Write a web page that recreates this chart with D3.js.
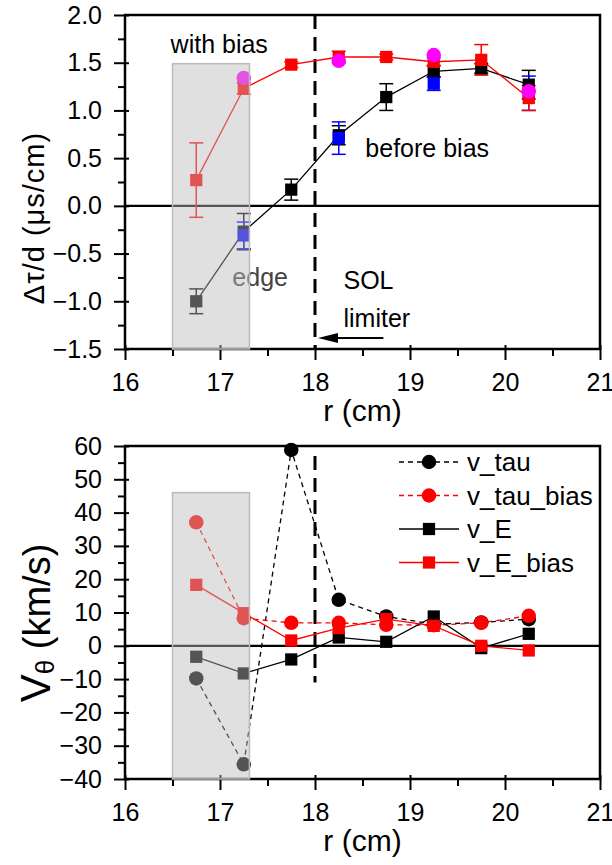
<!DOCTYPE html>
<html><head><meta charset="utf-8">
<script src="https://cdn.jsdelivr.net/npm/d3@7"></script>
<style>
body{margin:0;background:#fff}
svg{display:block}
text{font-family:"Liberation Sans",Arial,Helvetica,sans-serif}
</style>
</head><body>
<script>
// ---------- DATA ----------
const rPos = [16.75,17.25,17.75,18.25,18.75,19.25,19.75,20.25];
const xTicks = [16,17,18,19,20,21];
// top panel: Δτ/d (µs/cm)
const beforeBias      = [-1.00,-0.27,0.17,0.74,1.14,1.41,1.44,1.27];
const beforeBiasErr   = [0.13,0.19,0.11,0.10,0.14,0.06,0.05,0.15];
const beforeBias2     = [null,-0.31,null,0.71,null,1.28,null,1.18];
const beforeBias2Err  = [null,0.14,null,0.17,null,0.07,null,0.18];
const withBias        = [0.27,1.23,1.48,1.56,1.56,1.51,1.53,1.13];
const withBiasErr     = [0.39,0.06,0.03,0.06,0.03,0.04,0.16,0.13];
const withBias2       = [null,1.34,null,1.52,null,1.58,null,1.20];
const topYTicks = [-1.5,-1.0,-0.5,0.0,0.5,1.0,1.5,2.0];
// bottom panel: V_theta (km/s)
const vTau     = [-9.8,-35.6,58.8,13.8,8.8,6.5,7.0,8.0];
const vTauBias = [37.1,8.3,6.9,6.9,6.3,6.2,6.9,9.0];
const vE       = [-3.3,-8.3,-4.1,2.5,1.2,8.8,-0.7,3.6];
const vEBias   = [18.3,9.8,1.6,5.3,8.0,6.0,0.0,-1.4];
const botYTicks = [-40,-30,-20,-10,0,10,20,30,40,50,60];
const legendNames = ["v_tau","v_tau_bias","v_E","v_E_bias"];

// ---------- SETUP ----------
const W = 612, H = 865;
const svg = d3.select("body").append("svg").attr("width", W).attr("height", H);
const x = d3.scaleLinear().domain([16,21]).range([125,600]);
const yT = d3.scaleLinear().domain([-1.5,2]).range([349,15]);
const yB = d3.scaleLinear().domain([-40,60]).range([779,446]);
const FS = 25;

function axes(y, yMajor, yMinorStep, yFmt) {
  const g = svg.append("g");
  const [y0,y1] = y.range();
  const xMinor = d3.range(16.5, 21, 1);
  g.append("g").attr("transform",`translate(0,${y0})`)
    .call(d3.axisBottom(x).tickValues(xMinor).tickSize(7).tickFormat(""))
    .call(s=>s.select(".domain").remove())
    .selectAll("line").attr("stroke-width",2);
  const gx = g.append("g").attr("transform",`translate(0,${y0})`)
    .call(d3.axisBottom(x).tickValues(xTicks).tickSize(11).tickPadding(13).tickFormat(d3.format("d")));
  gx.select(".domain").remove();
  gx.selectAll("line").attr("y1",-4).attr("stroke-width",2);
  gx.selectAll("text").attr("font-size",FS).attr("font-family",null).attr("fill","#000");
  const dom = y.domain();
  const yMinor = d3.range(dom[0], dom[1]+1e-9, yMinorStep).filter(v => !yMajor.some(m => Math.abs(m-v)<1e-9));
  g.append("g").attr("transform",`translate(125,0)`)
    .call(d3.axisLeft(y).tickValues(yMinor).tickSize(7).tickFormat(""))
    .call(s=>s.select(".domain").remove())
    .selectAll("line").attr("stroke-width",2);
  const gy = g.append("g").attr("transform",`translate(125,0)`)
    .call(d3.axisLeft(y).tickValues(yMajor).tickSize(11).tickPadding(12).tickFormat(yFmt));
  gy.select(".domain").remove();
  gy.selectAll("line").attr("x1",4).attr("stroke-width",2);
  gy.selectAll("text").attr("font-size",FS).attr("font-family",null).attr("fill","#000");
  svg.append("rect").attr("x",x(16)).attr("y",y1).attr("width",x(21)-x(16)).attr("height",y0-y1)
    .attr("fill","none").attr("stroke","#000").attr("stroke-width",2.5);
  svg.append("line").attr("x1",x(16)).attr("x2",x(21)).attr("y1",y(0)).attr("y2",y(0))
    .attr("stroke","#000").attr("stroke-width",2.2);
  svg.append("text").attr("x",(x(16)+x(21))/2).attr("y",y0+72).attr("text-anchor","middle")
    .attr("font-size",30).text("r (cm)");
}

function series(y, vals, errs, color, lineDash, drawLine) {
  const pts = rPos.map((r,i)=>({r, v: vals[i], e: errs ? errs[i] : null})).filter(d=>d.v!==null);
  if (drawLine) {
    svg.append("path").datum(pts)
      .attr("d", d3.line().x(d=>x(d.r)).y(d=>y(d.v)))
      .attr("fill","none").attr("stroke",color).attr("stroke-width",1.3)
      .attr("stroke-dasharray", lineDash || null);
  }
  return pts;
}
function errorbars(y, pts, color) {
  const g = svg.append("g").attr("stroke",color).attr("stroke-width",1.5);
  pts.filter(d=>d.e).forEach(d=>{
    g.append("line").attr("x1",x(d.r)).attr("x2",x(d.r)).attr("y1",y(d.v-d.e)).attr("y2",y(d.v+d.e));
    [d.v-d.e,d.v+d.e].forEach(v=>g.append("line").attr("x1",x(d.r)-7).attr("x2",x(d.r)+7).attr("y1",y(v)).attr("y2",y(v)));
  });
}
function markers(y, pts, color, shape) {
  const sym = d3.symbol().type(shape==="sq"?d3.symbolSquare:d3.symbolCircle).size(shape==="sq"?150:165);
  svg.append("g").selectAll("path").data(pts).join("path")
    .attr("transform",d=>`translate(${x(d.r)},${y(d.v)})`).attr("d",sym).attr("fill",color);
}

// ---------- TOP PANEL ----------
axes(yT, topYTicks, 0.25, d3.format(".1f"));
svg.append("line").attr("x1",x(18)).attr("x2",x(18)).attr("y1",yT(2)).attr("y2",yT(-1.5))
  .attr("stroke","#000").attr("stroke-width",3).attr("stroke-dasharray","14,8");

const pB = series(yT, beforeBias, beforeBiasErr, "#000", null, true);
const pW = series(yT, withBias, withBiasErr, "#ff0000", null, true);
const pB2 = series(yT, beforeBias2, beforeBias2Err, "#0000ff", null, false);
const pW2 = series(yT, withBias2, null, "#ff00ff", null, false);
errorbars(yT, pB, "#000");
errorbars(yT, pB2, "#0000ff");
errorbars(yT, pW, "#ff0000");
markers(yT, pB, "#000", "sq");
markers(yT, pB2, "#0000ff", "sq");
markers(yT, pW, "#ff0000", "sq");
markers(yT, pW2, "#ff00ff", "ci");

svg.append("text").attr("x",x(16.48)).attr("y",yT(1.60)).attr("font-size",FS).text("with bias");
svg.append("text").attr("x",x(18.53)).attr("y",yT(0.51)).attr("font-size",FS).text("before bias");
svg.append("text").attr("x",x(17.13)).attr("y",yT(-0.84)).attr("font-size",FS).attr("fill","#444").text("edge");
svg.append("text").attr("x",x(18.3)).attr("y",yT(-0.87)).attr("font-size",FS).text("SOL");
svg.append("text").attr("x",x(18.3)).attr("y",yT(-1.27)).attr("font-size",FS).text("limiter");
const ay = yT(-1.385);
svg.append("line").attr("x1",x(18.72)).attr("x2",x(18)+18).attr("y1",ay).attr("y2",ay).attr("stroke","#000").attr("stroke-width",2);
svg.append("path").attr("d",`M${x(18)+3},${ay} L${x(18)+23},${ay-5} L${x(18)+23},${ay+5} Z`).attr("fill","#000");

svg.append("rect").attr("x",x(16.5)).attr("y",yT(1.49)).attr("width",x(17.31)-x(16.5)).attr("height",yT(-1.5)-yT(1.49))
  .attr("fill","rgb(187,187,187)").attr("fill-opacity",0.45).attr("stroke","#bbb").attr("stroke-width",1.5);

// ---------- BOTTOM PANEL ----------
axes(yB, botYTicks, 5, d3.format("d"));
svg.append("line").attr("x1",x(18)).attr("x2",x(18)).attr("y1",yB(57)).attr("y2",yB(-11))
  .attr("stroke","#000").attr("stroke-width",3).attr("stroke-dasharray","14,8");

const qT = series(yB, vTau, null, "#000", "5,4", true);
const qTB = series(yB, vTauBias, null, "#ff0000", "5,4", true);
const qE = series(yB, vE, null, "#000", null, true);
const qEB = series(yB, vEBias, null, "#ff0000", null, true);
markers(yB, qT, "#000", "ci");
markers(yB, qTB, "#ff0000", "ci");
markers(yB, qE, "#000", "sq");
markers(yB, qEB, "#ff0000", "sq");

svg.append("rect").attr("x",x(16.5)).attr("y",yB(46)).attr("width",x(17.31)-x(16.5)).attr("height",yB(-40)-yB(46))
  .attr("fill","rgb(187,187,187)").attr("fill-opacity",0.45).attr("stroke","#bbb").attr("stroke-width",1.5);

const legStyles = [
  {c:"#000", s:"ci", d:"5,4"},
  {c:"#ff0000", s:"ci", d:"5,4"},
  {c:"#000", s:"sq", d:null},
  {c:"#ff0000", s:"sq", d:null}
];
legendNames.forEach((n,i)=>{
  const ly = 462 + i*33.5;
  const st = legStyles[i];
  svg.append("line").attr("x1",399).attr("x2",459).attr("y1",ly).attr("y2",ly)
    .attr("stroke",st.c).attr("stroke-width",1.3).attr("stroke-dasharray",st.d);
  svg.append("path").attr("transform",`translate(429,${ly})`)
    .attr("d",d3.symbol().type(st.s==="sq"?d3.symbolSquare:d3.symbolCircle).size(st.s==="sq"?150:165)()).attr("fill",st.c);
  svg.append("text").attr("x",467).attr("y",ly).attr("dy","0.35em").attr("font-size",26).text(n);
});

// ---------- Y TITLES ----------
svg.append("text").attr("transform","translate(44,218) rotate(-90)").attr("text-anchor","middle")
  .attr("font-size",29).attr("letter-spacing",1).text("Δτ/d (μs/cm)");
const t2 = svg.append("text").attr("transform","translate(50,623) rotate(-90)").attr("text-anchor","middle");
t2.append("tspan").attr("font-size",42).text("V");
t2.append("tspan").attr("font-size",26).attr("dy",4).text("θ");
t2.append("tspan").attr("font-size",38).attr("dy",-4).text(" (km/s)");
</script>
</body></html>
